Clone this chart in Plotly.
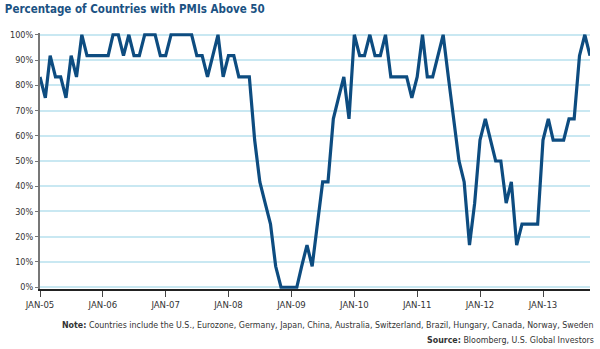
import pandas as pd
import plotly.graph_objects as go

# Share of the 12 tracked economies with a manufacturing PMI above 50, monthly
months = pd.date_range("2005-01-01", "2013-10-01", freq="MS")
pct_above_50 = [
    83.3, 75, 91.7, 83.3, 83.3, 75, 91.7, 83.3, 100, 91.7, 91.7, 91.7,        # 2005
    91.7, 91.7, 100, 100, 91.7, 100, 91.7, 91.7, 100, 100, 100, 91.7,         # 2006
    91.7, 100, 100, 100, 100, 100, 91.7, 91.7, 83.3, 91.7, 100, 83.3,         # 2007
    91.7, 91.7, 83.3, 83.3, 83.3, 58.3, 41.7, 33.3, 25, 8.3, 0, 0,            # 2008
    0, 0, 8.3, 16.7, 8.3, 25, 41.7, 41.7, 66.7, 75, 83.3, 66.7,               # 2009
    100, 91.7, 91.7, 100, 91.7, 91.7, 100, 83.3, 83.3, 83.3, 83.3, 75,        # 2010
    83.3, 100, 83.3, 83.3, 91.7, 100, 83.3, 66.7, 50, 41.7, 16.7, 33.3,       # 2011
    58.3, 66.7, 58.3, 50, 50, 33.3, 41.7, 16.7, 25, 25, 25, 25,               # 2012
    58.3, 66.7, 58.3, 58.3, 58.3, 66.7, 66.7, 91.7, 100, 91.7,                # 2013
]

x_tick_vals = pd.date_range("2005-01-01", "2013-01-01", freq="YS")
x_tick_text = ["JAN-05", "JAN-06", "JAN-07", "JAN-08", "JAN-09",
               "JAN-10", "JAN-11", "JAN-12", "JAN-13"]
y_tick_vals = list(range(0, 101, 10))
y_tick_text = [f"{v}%" for v in y_tick_vals]

NARROW = "DejaVu Sans Condensed, Liberation Sans Narrow, sans-serif"
LINE_BLUE = "#0d4c80"
TITLE_BLUE = "#1b5283"
TEXT = "#333333"

fig = go.Figure(
    go.Scatter(
        x=months,
        y=pct_above_50,
        mode="lines",
        line=dict(color=LINE_BLUE, width=3.2),
        cliponaxis=False,
        hoverinfo="skip",
    )
)

fig.update_layout(
    width=600,
    height=349,
    margin=dict(l=32, r=10, t=33, b=60),
    paper_bgcolor="white",
    plot_bgcolor="white",
    showlegend=False,
    font=dict(family=NARROW, size=10, color=TEXT),
    title=dict(
        text="<b>Percentage of Countries with PMIs Above 50</b>",
        x=0.008, xanchor="left",
        y=0.985, yanchor="top",
        font=dict(family=NARROW, size=11.5, color=TITLE_BLUE),
    ),
)

fig.update_xaxes(
    range=[months[0], months[-1]],
    tickvals=x_tick_vals,
    ticktext=x_tick_text,
    showgrid=False,
    showline=True,
    linecolor="#222222",
    linewidth=1.5,
    ticks="outside",
    ticklen=6,
    tickwidth=1.2,
    tickcolor="#444444",
    tickfont=dict(family=NARROW, size=9.5, color=TEXT),
    zeroline=False,
)

fig.update_yaxes(
    range=[-0.7, 100.7],
    tickvals=y_tick_vals,
    ticktext=y_tick_text,
    showgrid=True,
    gridcolor="#c9e8f2",
    gridwidth=1.5,
    showline=True,
    linecolor="#777777",
    linewidth=2,
    ticks="outside",
    ticklen=3,
    tickwidth=1.2,
    tickcolor="#777777",
    tickfont=dict(family=NARROW, size=9, color=TEXT),
    zeroline=False,
)

fig.add_annotation(
    xref="paper", yref="paper", x=1.01, y=-0.14,
    xanchor="right", yanchor="middle", showarrow=False,
    text=("<b>Note:</b> Countries include the U.S., Eurozone, Germany, Japan, China, "
          "Australia, Switzerland, Brazil, Hungary, Canada, Norway, Sweden"),
    font=dict(family=NARROW, size=8.8, color=TEXT),
)
fig.add_annotation(
    xref="paper", yref="paper", x=1.01, y=-0.2,
    xanchor="right", yanchor="middle", showarrow=False,
    text="<b>Source:</b> Bloomberg, U.S. Global Investors",
    font=dict(family=NARROW, size=8.8, color=TEXT),
)

fig.write_html("out.html")
